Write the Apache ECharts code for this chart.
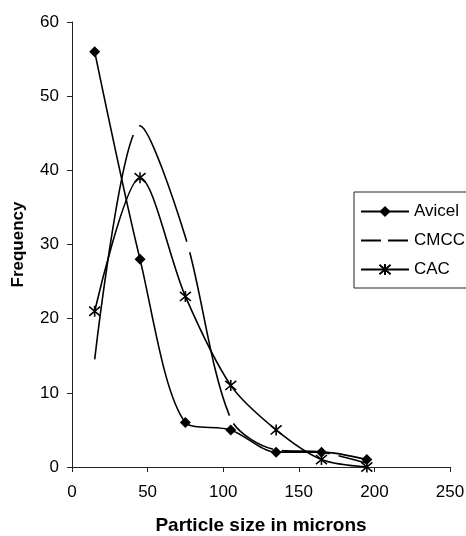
<!DOCTYPE html>
<html><head><meta charset="utf-8">
<script src="https://cdn.jsdelivr.net/npm/echarts@6/dist/echarts.min.js"></script>
<style>html,body{margin:0;padding:0;background:#fff}#c{width:466px;height:536px}</style>
</head><body><div id="c"></div>
<script>
const sizes = [15, 45, 75, 105, 135, 165, 195];
const avicel = [56, 28, 6, 5, 2, 2, 1];
const cmcc = [14.5, 46, 31, 6.5, 2.3, 2, 0.5];
const cac = [21, 39, 23, 11, 5, 1, 0];
const xTicks = [0, 50, 100, 150, 200, 250];
const yTicks = [0, 10, 20, 30, 40, 50, 60];

const pair = (vals) => sizes.map((x, i) => [x, vals[i]]);
const FONT = '"Liberation Sans", Arial, sans-serif';
const star = 'path://M0,0 L10,10 M10,0 L0,10 M5,-1 L5,11';

const chart = echarts.init(document.getElementById('c'));
chart.setOption({
  animation: false,
  backgroundColor: '#fff',
  grid: { left: 72, right: 16, top: 22, bottom: 69, outerBoundsMode: 'none', containLabel: false },
  legend: {
    orient: 'vertical', left: 354, top: 192,
    padding: [11, 30, 10, 6], itemGap: 12, itemWidth: 48, itemHeight: 14,
    borderColor: '#222', borderWidth: 1,
    textStyle: { fontFamily: FONT, fontSize: 17, color: '#000' },
    data: [
      { name: 'Avicel' },
      { name: 'CMCC', lineStyle: { type: [20, 7] } },
      { name: 'CAC' }
    ]
  },
  xAxis: {
    type: 'value', min: xTicks[0], max: xTicks[xTicks.length - 1], interval: 50,
    name: 'Particle size in microns', nameLocation: 'middle', nameGap: 49,
    nameTextStyle: { fontFamily: FONT, fontSize: 19, fontWeight: 'bold', color: '#000' },
    axisLine: { lineStyle: { color: '#222', width: 1 } },
    axisTick: { show: true, length: 5, lineStyle: { color: '#222' } },
    axisLabel: { fontFamily: FONT, fontSize: 17, color: '#000', margin: 17 },
    splitLine: { show: false }
  },
  yAxis: {
    type: 'value', min: yTicks[0], max: yTicks[yTicks.length - 1], interval: 10,
    name: 'Frequency', nameLocation: 'middle', nameGap: 45,
    nameTextStyle: { fontFamily: FONT, fontSize: 17, fontWeight: 'bold', color: '#000' },
    axisLine: { show: true, lineStyle: { color: '#222', width: 1 } },
    axisTick: { show: true, length: 5, lineStyle: { color: '#222' } },
    axisLabel: { fontFamily: FONT, fontSize: 17, color: '#000', margin: 13 },
    splitLine: { show: false }
  },
  series: [
    {
      name: 'Avicel', type: 'line', data: pair(avicel), smooth: 0.3,
      symbol: 'diamond', symbolSize: 11,
      lineStyle: { color: '#000', width: 1.6 },
      itemStyle: { color: '#000' }
    },
    {
      name: 'CMCC', type: 'line', data: pair(cmcc), smooth: 0.3,
      showSymbol: false, symbol: 'circle', symbolSize: 0,
      lineStyle: { color: '#000', width: 1.6, type: [228, 11, 127, 11, 168, 9, 48, 9, 48, 9, 48, 9] },
      itemStyle: { color: 'rgba(0,0,0,0)', borderWidth: 0, opacity: 0 }
    },
    {
      name: 'CAC', type: 'line', data: pair(cac), smooth: 0.3,
      symbol: star, symbolSize: 11,
      lineStyle: { color: '#000', width: 1.6 },
      itemStyle: { color: 'none', borderColor: '#000', borderWidth: 1.6 }
    }
  ]
});
</script></body></html>
